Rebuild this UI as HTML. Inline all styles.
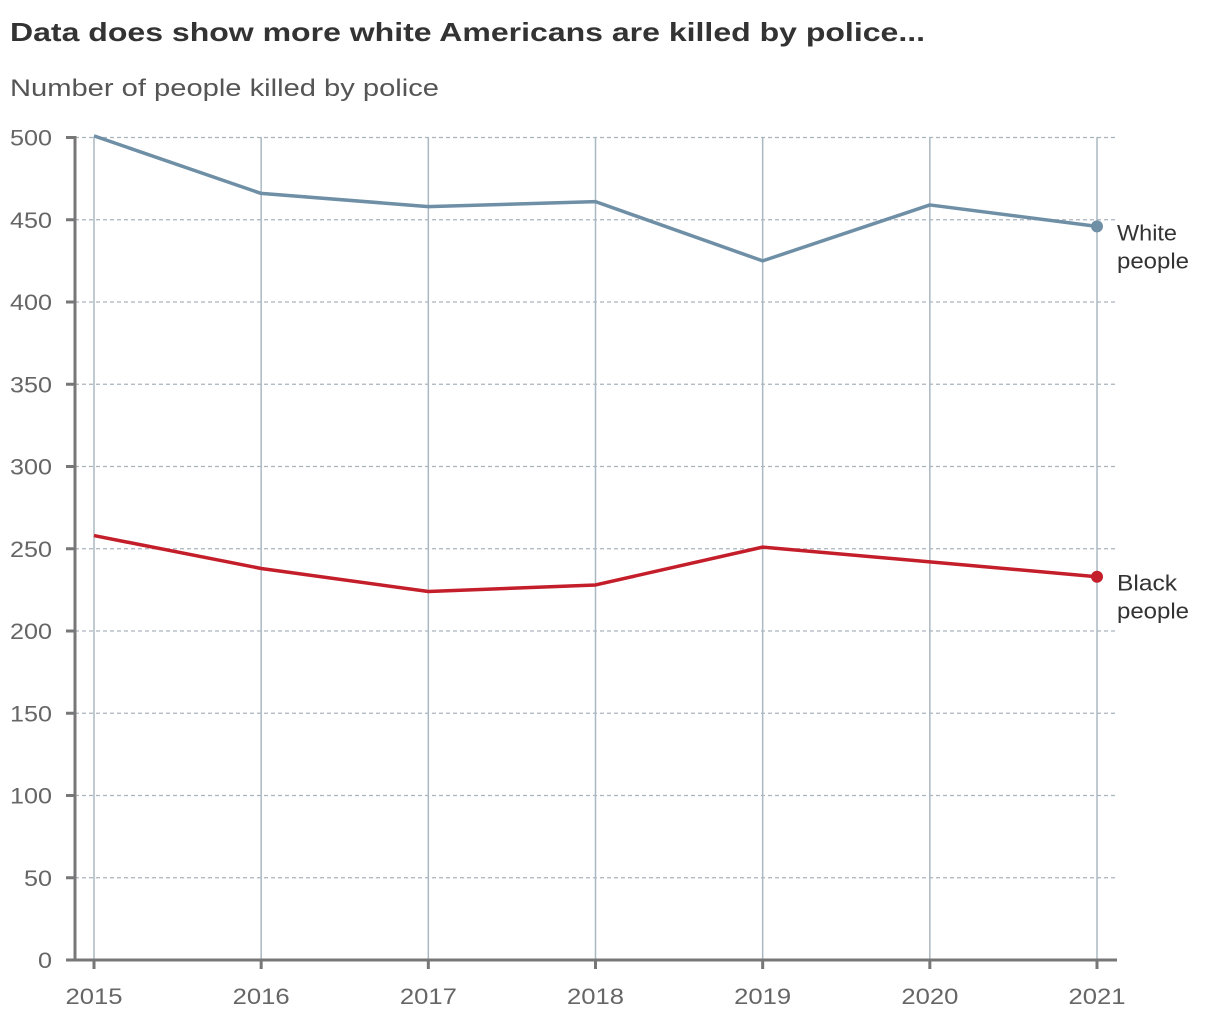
<!DOCTYPE html>
<html><head><meta charset="utf-8"><style>
html,body{margin:0;padding:0;background:#fff;}
svg{display:block;font-family:"Liberation Sans",sans-serif;}
</style></head><body>
<svg id="chart" width="1220" height="1020" viewBox="0 0 1220 1020">
<text x="10" y="41" font-size="26" font-weight="bold" fill="#333" textLength="915" lengthAdjust="spacingAndGlyphs">Data does show more white Americans are killed by police...</text>
<text x="10" y="96" font-size="24" fill="#555" textLength="429" lengthAdjust="spacingAndGlyphs">Number of people killed by police</text>
<g id="grid"></g><g id="axes"></g><g id="series"></g>
</svg>
<script>
const years = [2015, 2016, 2017, 2018, 2019, 2020, 2021];
const whiteValues = [501, 466, 458, 461, 425, 459, 446];
const blackValues = [258, 238, 224, 228, 251, 242, 233];
const yTicks = [0, 50, 100, 150, 200, 250, 300, 350, 400, 450, 500];
const seriesLabels = [["White", "people"], ["Black", "people"]];

const NS = "http://www.w3.org/2000/svg";
const x = y => 94 + (y - 2015) * (1097 - 94) / 6;
const yS = v => 960 - v * (960 - 137.5) / 500;
function mk(tag, attrs, parent) {
  const e = document.createElementNS(NS, tag);
  for (const k in attrs) e.setAttribute(k, attrs[k]);
  parent.appendChild(e); return e;
}
const grid = document.getElementById('grid'), axes = document.getElementById('axes'), series = document.getElementById('series');
yTicks.forEach(t => {
  if (t > 0) {
    const l = mk('line', {x1: 75, x2: 1116, y1: yS(t), y2: yS(t), stroke: '#aab4bc', 'stroke-width': 1.2, 'stroke-dasharray': '4,3'}, grid);
    
    
  }
  const tk = mk('line', {x1: 66, x2: 75, y1: yS(t), y2: yS(t), stroke: '#777', 'stroke-width': 3}, axes);
  
  
  const s = String(t);
  const tx = mk('text', {x: 52, y: yS(t) + 8, 'font-size': 22, fill: '#666', 'text-anchor': 'end', textLength: s.length * 14, lengthAdjust: 'spacingAndGlyphs'}, axes);
  tx.textContent = s;
  
  
});
years.forEach(yr => {
  const l = mk('line', {x1: x(yr), x2: x(yr), y1: 137, y2: 960, stroke: '#aab8c2', 'stroke-width': 1.5}, grid);
  
  
  const tk = mk('line', {x1: x(yr), x2: x(yr), y1: 960, y2: 969, stroke: '#777', 'stroke-width': 3}, axes);
  
  
  const tx = mk('text', {x: x(yr) - 28.5, y: 1004, 'font-size': 22, fill: '#666', textLength: 57, lengthAdjust: 'spacingAndGlyphs'}, axes);
  tx.textContent = yr;
  
  
});
const ya = mk('line', {x1: 75, x2: 75, y1: 136, y2: 961, stroke: '#777', 'stroke-width': 3}, axes);


const xa = mk('line', {x1: 66, x2: 1117, y1: 960, y2: 960, stroke: '#777', 'stroke-width': 3}, axes);



function drawSeries(vals, color, name, labels) {
  const pts = vals.map((v, i) => x(years[i]) + ',' + yS(v)).join(' ');
  const pl = mk('polyline', {points: pts, fill: 'none', stroke: color, 'stroke-width': 3.5, 'stroke-linejoin': 'round'}, series);
  
  
  const lv = vals[vals.length - 1], ly = yS(lv), lx = x(years[years.length - 1]);
  const c = mk('circle', {cx: lx, cy: ly, r: 6, fill: color}, series);
  
  
  labels.forEach((s, i) => {
    const t = mk('text', {x: 1117, y: ly + 14 + i * 28, 'font-size': 22, fill: '#333', textLength: s.length * 12, lengthAdjust: 'spacingAndGlyphs'}, series);
    t.textContent = s;
    
    
  });
}
drawSeries(whiteValues, '#6e8fa5', 'white-people', seriesLabels[0]);
drawSeries(blackValues, '#c41e2a', 'black-people', seriesLabels[1]);
</script>
</body></html>
